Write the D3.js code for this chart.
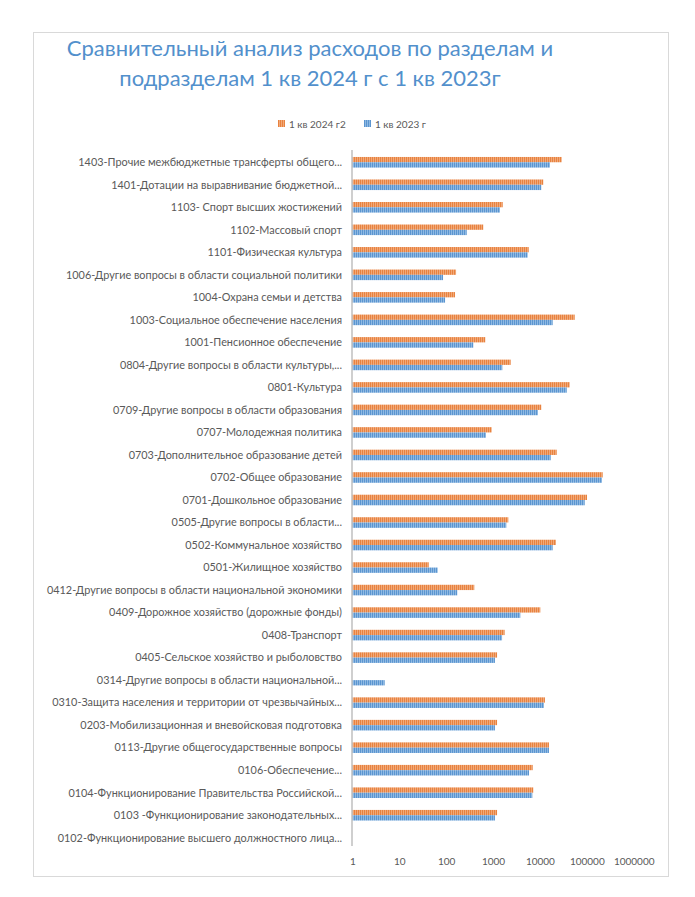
<!DOCTYPE html>
<html>
<head>
<meta charset="utf-8">
<script src="https://cdn.jsdelivr.net/npm/d3@7/dist/d3.min.js"></script>
<style>
  html, body { margin: 0; padding: 0; background: #ffffff; }
  svg { display: block; }
  text { font-family: Lato, "Open Sans", sans-serif; }
</style>
</head>
<body>
<svg id="chart" width="695" height="897"></svg>
<script>
const categories = [
  "1403-Прочие межбюджетные трансферты общего...",
  "1401-Дотации на выравнивание бюджетной...",
  "1103- Спорт высших жостижений",
  "1102-Массовый спорт",
  "1101-Физическая культура",
  "1006-Другие вопросы в области социальной политики",
  "1004-Охрана семьи и детства",
  "1003-Социальное обеспечение населения",
  "1001-Пенсионное обеспечение",
  "0804-Другие вопросы в области культуры,...",
  "0801-Культура",
  "0709-Другие вопросы в области образования",
  "0707-Молодежная политика",
  "0703-Дополнительное образование детей",
  "0702-Общее образование",
  "0701-Дошкольное образование",
  "0505-Другие вопросы в области...",
  "0502-Коммунальное хозяйство",
  "0501-Жилищное хозяйство",
  "0412-Другие вопросы в области национальной экономики",
  "0409-Дорожное хозяйство (дорожные фонды)",
  "0408-Транспорт",
  "0405-Сельское хозяйство и рыболовство",
  "0314-Другие вопросы в области национальной...",
  "0310-Защита населения и территории от чрезвычайных...",
  "0203-Мобилизационная и вневойсковая подготовка",
  "0113-Другие общегосударственные вопросы",
  "0106-Обеспечение...",
  "0104-Функционирование Правительства Российской...",
  "0103 -Функционирование законодательных...",
  "0102-Функционирование высшего должностного лица..."
];
const series2024 = [29200, 11800, 1610, 620, 5770, 163, 155, 55200, 685, 2380,
  43200, 10700, 938, 22800, 218000, 101000, 2120, 22000, 42.6, 399,
  10200, 1770, 1220, null, 12800, 1220, 15600, 7020, 7230, 1220, null];
const series2023 = [16400, 10700, 1410, 275, 5490, 86, 95, 18700, 380, 1580,
  37300, 9100, 709, 17000, 211000, 90200, 1920, 18700, 66.2, 173,
  3820, 1560, 1100, 4.9, 12200, 1100, 15600, 5860, 6890, 1100, null];
const seriesNames = ["1 кв 2024 г2", "1 кв 2023 г"];
const tickValues = [1, 10, 100, 1000, 10000, 100000, 1000000];
const tickLabels = ["1", "10", "100", "1000", "10000", "100000", "1000000"];
const titleLines = ["Сравнительный анализ расходов по разделам и", "подразделам 1 кв 2024 г с 1 кв 2023г"];

const svg = d3.select("#chart");

// chart border
svg.append("rect").attr("x", 33.5).attr("y", 32.5).attr("width", 635).attr("height", 844)
  .attr("fill", "#ffffff").attr("stroke", "#d9d9d9").attr("stroke-width", 1);

// patterns
const defs = svg.append("defs");
const palettes = [
  { id: "patO", fg: "#E8823F", bg: "#F3AE80" },
  { id: "patB", fg: "#5B95D0", bg: "#95BDE4" }
];
palettes.forEach(p => {
  const pat = defs.append("pattern").attr("id", p.id).attr("patternUnits", "userSpaceOnUse")
    .attr("width", 2).attr("height", 4);
  pat.append("rect").attr("width", 2).attr("height", 4).attr("fill", p.bg);
  pat.append("rect").attr("width", 1.1).attr("height", 4).attr("fill", p.fg);
});

// title
svg.append("g").selectAll("text").data(titleLines).join("text")
  .attr("x", 310).attr("y", (d, i) => 56 + i * 30)
  .attr("text-anchor", "middle")
  .attr("fill", "#5290CC")
  .attr("font-size", 22)
  .text(d => d);

// scales
const x = d3.scaleLog().domain([1, 1000000]).range([352.3, 633.7]);
const y = d3.scaleBand().domain(categories).range([151, 849]).paddingInner(0.53).paddingOuter(0.265);
const ys = d3.scaleBand().domain([0, 1]).range([0, y.bandwidth()]);

// legend
const legend = svg.append("g").attr("font-size", 10).attr("fill", "#595959");
const legX = [278, 364];
seriesNames.forEach((n, i) => {
  legend.append("rect").attr("x", legX[i]).attr("y", 120).attr("width", 7).attr("height", 7)
    .attr("fill", "url(#" + palettes[i].id + ")");
  legend.append("text").attr("x", legX[i] + 11).attr("y", 127.5).text(n);
});

// bars
const allSeries = [series2024, series2023];
allSeries.forEach((vals, si) => {
  svg.append("g").selectAll("rect")
    .data(categories.map((c, i) => ({ c, v: vals[i] })).filter(d => d.v != null && d.v > 0))
    .join("rect")
    .attr("x", x(1))
    .attr("y", d => y(d.c) + ys(si))
    .attr("width", d => Math.max(0, x(d.v) - x(1)))
    .attr("height", ys.bandwidth())
    .attr("fill", "url(#" + palettes[si].id + ")");
});

// category labels
svg.append("g").selectAll("text").data(categories).join("text")
  .attr("x", 342)
  .attr("y", d => y(d) + y.bandwidth() / 2)
  .attr("dy", "0.35em")
  .attr("text-anchor", "end")
  .attr("font-size", 10.85)
  .attr("fill", "#595959")
  .text(d => d);

// vertical axis line
svg.append("line").attr("x1", 352).attr("x2", 352).attr("y1", 150).attr("y2", 846)
  .attr("stroke", "#bfbfbf").attr("stroke-width", 1.5);

// x axis tick labels
const xAxis = d3.axisBottom(x).tickValues(tickValues).tickFormat((d, i) => tickLabels[i]).tickSize(0).tickPadding(0);
const gx = svg.append("g").attr("transform", "translate(0,858)").call(xAxis);
gx.select(".domain").remove();
gx.selectAll("text").attr("font-size", 10).attr("fill", "#595959").attr("font-family", "Lato, 'Open Sans', sans-serif");
</script>
</body>
</html>
